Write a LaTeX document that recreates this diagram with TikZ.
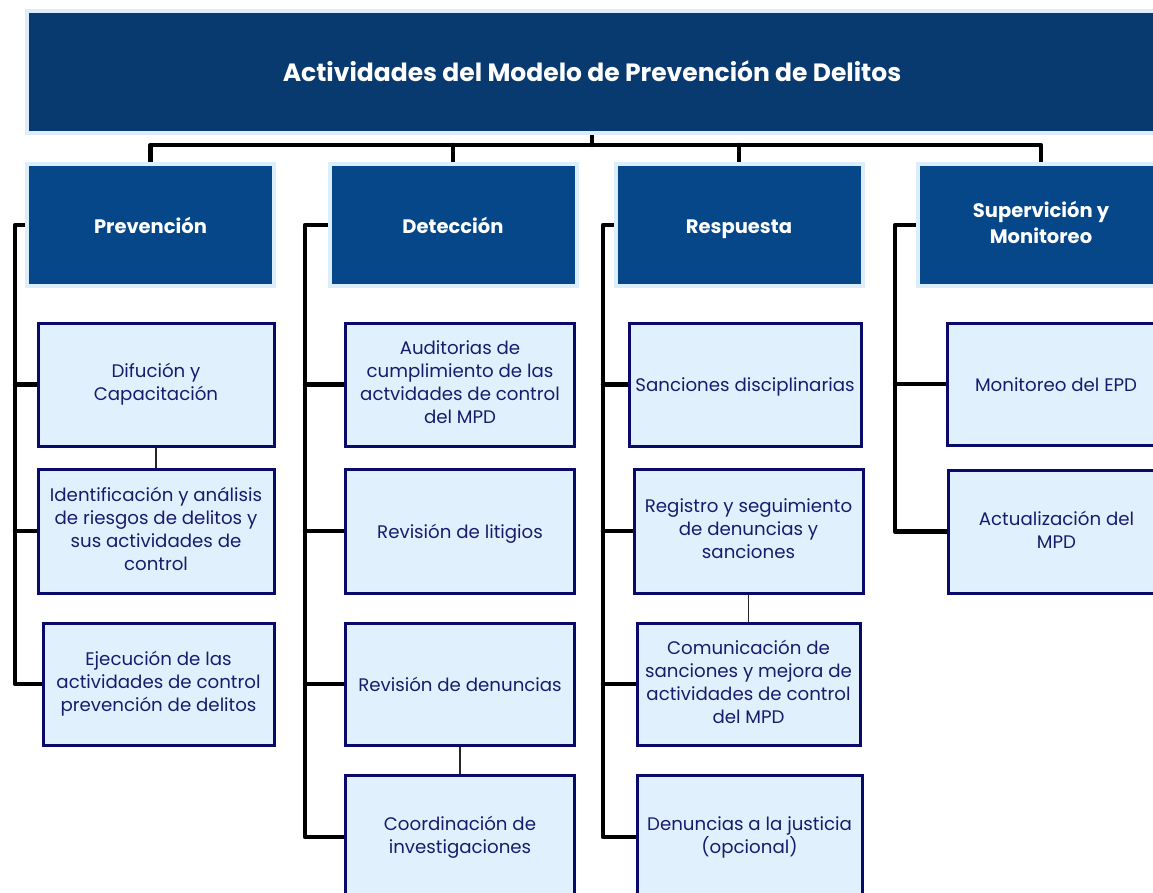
\documentclass[tikz,border=0pt]{standalone}
\usepackage{fontspec}
\setmainfont{Poppins}
\usetikzlibrary{backgrounds}
\definecolor{topblue}{HTML}{083A70}
\definecolor{hdrblue}{HTML}{064789}
\definecolor{lightedge}{HTML}{DCEDFB}
\definecolor{childfill}{HTML}{E1F0FD}
\definecolor{childedge}{HTML}{0A0A6B}
\definecolor{childtext}{HTML}{1B1B6E}
\tikzset{
  vstrut/.style 2 args={execute at begin node={\rule{0pt}{#1}}, execute at end node={\rule[-#2]{0pt}{#2}}},
  topbox/.style={rectangle, fill=topblue, draw=lightedge, line width=4pt, inner sep=0pt, outer sep=0pt,
    text=white, font=\fontsize{25}{29}\selectfont\bfseries, minimum width=1130pt, minimum height=122pt, vstrut={24.5pt}{4.5pt}},
  hdrbox/.style={rectangle, fill=hdrblue, draw=lightedge, line width=4pt, inner sep=0pt, outer sep=0pt,
    text=white, font=\fontsize{19.5}{26}\selectfont\bfseries, align=center, minimum width=247pt, minimum height=121pt, vstrut={21.2pt}{4.8pt}},
  childbox/.style={rectangle, fill=childfill, draw=childedge, line width=3pt, inner sep=0pt, outer sep=0pt,
    text=childtext, font=\fontsize{18.2}{23}\selectfont, align=center, vstrut={19pt}{4pt}},
  trunk/.style={line width=4.5pt, line cap=round, line join=round, draw=black},
  thinlink/.style={line width=1.5pt, draw=black!85}
}
\begin{document}
\begin{tikzpicture}[x=1pt,y=-1pt]
\useasboundingbox (0,0) rectangle (1153,893);
\clip (0,0) rectangle (1153,893);
% top and headers
\node[topbox] (top) at (592,72) {Actividades del Modelo de Prevención de Delitos};
\node[hdrbox] (ph) at (150.5,225) {Prevención};
\node[hdrbox] (dh) at (453,225) {Detección};
\node[hdrbox] (rh) at (739,225) {Respuesta};
\node[hdrbox] (sh) at (1041,225) {Supervición y\\Monitoreo};
% Prevencion
\node[childbox, minimum width=236pt, minimum height=123pt] (p1) at (156,384.5) {Difución y\\Capacitación};
\node[childbox, minimum width=236pt, minimum height=124pt] (p2) at (156,531) {Identificación y análisis\\de riesgos de delitos y\\sus actividades de\\control};
\node[childbox, minimum width=231pt, minimum height=122pt] (p3) at (158.5,684) {Ejecución de las\\actividades de control\\prevención de delitos};
% Deteccion
\node[childbox, minimum width=229pt, minimum height=123pt] (d1) at (460,384.5) {Auditorias de\\cumplimiento de las\\actvidades de control\\del MPD};
\node[childbox, minimum width=229pt, minimum height=124pt] (d2) at (460,531) {Revisión de litigios};
\node[childbox, minimum width=229pt, minimum height=122pt] (d3) at (460,684) {Revisión de denuncias};
\node[childbox, minimum width=229pt, minimum height=124pt] (d4) at (460,837) {Coordinación de\\investigaciones};
% Respuesta
\node[childbox, minimum width=232pt, minimum height=123pt] (r1) at (745,384.5) {Sanciones disciplinarias};
\node[childbox, minimum width=229pt, minimum height=124pt] (r2) at (748.5,531) {Registro y seguimiento\\de denuncias y\\sanciones};
\node[childbox, minimum width=223pt, minimum height=122pt] (r3) at (748.5,684) {Comunicación de\\sanciones y mejora de\\actividades de control\\del MPD};
\node[childbox, minimum width=225pt, minimum height=124pt] (r4) at (749.5,837) {Denuncias a la justicia\\(opcional)};
% Supervision
\node[childbox, minimum width=218pt, minimum height=122pt] (s1) at (1056,384) {Monitoreo del EPD};
\node[childbox, minimum width=217pt, minimum height=123pt] (s2) at (1056.5,531.5) {Actualización del\\MPD};
% trunk x positions and bar
\coordinate (bar) at (0,145);
\coordinate (px) at (15,0);
\coordinate (dx) at (305,0);
\coordinate (rx) at (603,0);
\coordinate (sx) at (895,0);
\begin{pgfonlayer}{background}
\draw[trunk] (top.south) -- (top.south |- bar);
\draw[trunk] (ph.north) -- (ph.north |- bar) -- (sh.north |- bar) -- (sh.north);
\draw[trunk] (dh.north) -- (dh.north |- bar);
\draw[trunk] (rh.north) -- (rh.north |- bar);
% Prevencion trunk
\draw[trunk] (ph.west) -- (ph.west -| px) |- (p3.west);
\draw[trunk] (p1.west -| px) -- (p1.west);
\draw[trunk] (p2.west -| px) -- (p2.west);
% Deteccion trunk
\draw[trunk] (dh.west) -- (dh.west -| dx) |- (d4.west);
\draw[trunk] (d1.west -| dx) -- (d1.west);
\draw[trunk] (d2.west -| dx) -- (d2.west);
\draw[trunk] (d3.west -| dx) -- (d3.west);
% Respuesta trunk
\draw[trunk] (rh.west) -- (rh.west -| rx) |- (r4.west);
\draw[trunk] (r1.west -| rx) -- (r1.west);
\draw[trunk] (r2.west -| rx) -- (r2.west);
\draw[trunk] (r3.west -| rx) -- (r3.west);
% Supervision trunk
\draw[trunk] (sh.west) -- (sh.west -| sx) |- (s2.west);
\draw[trunk] (s1.west -| sx) -- (s1.west);
% thin links
\draw[thinlink] (p1.south) -- (p2.north);
\draw[thinlink] (d3.south) -- (d4.north);
\draw[thinlink] (r2.south) -- (r3.north);
\end{pgfonlayer}
\end{tikzpicture}
\end{document}
